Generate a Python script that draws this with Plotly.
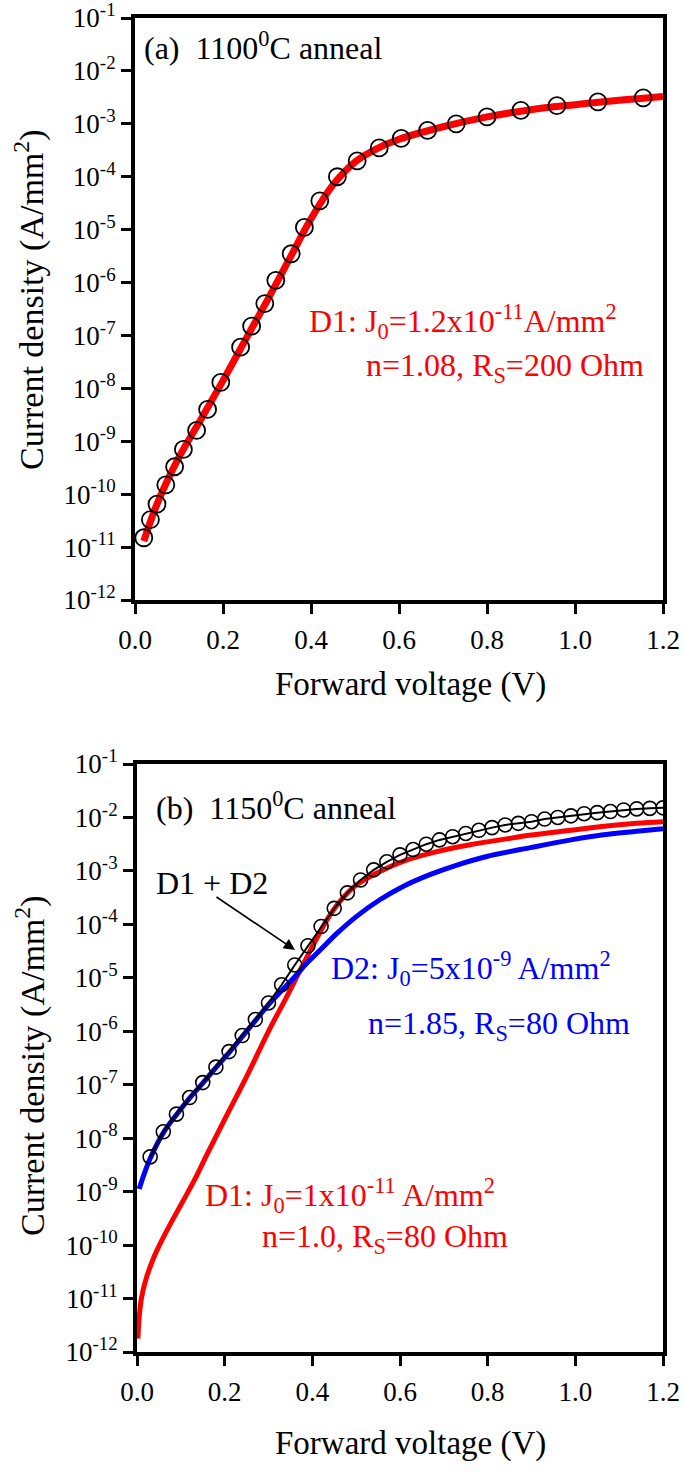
import math
import plotly.graph_objects as go

FONT = "Liberation Serif, Times New Roman, serif"
W, H = 685, 1472

# ---------------- data: panel (a) 1100 C anneal ----------------
a_v = [0.02, 0.035, 0.05, 0.07, 0.09, 0.11, 0.14, 0.165, 0.195, 0.24, 0.265, 0.295,
       0.32, 0.355, 0.385, 0.42, 0.46, 0.505, 0.555, 0.605, 0.665, 0.73, 0.8, 0.877,
       0.959, 1.052, 1.155]
a_j = [1.5e-11, 3.3e-11, 6.5e-11, 1.5e-10, 3.3e-10, 7e-10, 1.6e-9, 4e-9, 1.3e-8, 6e-8,
       1.5e-7, 4e-7, 1.1e-6, 3.5e-6, 1.1e-5, 3.5e-5, 1e-4, 2e-4, 3.5e-4, 5.3e-4, 7.5e-4,
       1e-3, 1.35e-3, 1.8e-3, 2.2e-3, 2.6e-3, 3.1e-3]
a_fit_v = [0.02, 0.05, 0.1, 0.15, 0.2, 0.25, 0.3, 0.35, 0.4, 0.45, 0.5, 0.55, 0.6, 0.7,
           0.8, 0.9, 1.0, 1.1, 1.2]
a_fit_j = [1.3e-11, 6.5e-11, 5e-10, 2.6e-9, 1.4e-8, 8e-8, 4.5e-7, 2.7e-6, 1.6e-5, 7e-5,
           1.9e-4, 3.4e-4, 5.1e-4, 8.8e-4, 1.35e-3, 1.85e-3, 2.3e-3, 2.8e-3, 3.3e-3]

# ---------------- data: panel (b) 1150 C anneal ----------------
b_v = [0.03, 0.06, 0.09, 0.12, 0.15, 0.18, 0.21, 0.24, 0.27, 0.30, 0.33, 0.36, 0.39,
       0.42, 0.45, 0.48, 0.51, 0.54, 0.57, 0.60, 0.63, 0.66, 0.69, 0.72, 0.75, 0.78,
       0.81, 0.84, 0.87, 0.90, 0.93, 0.96, 0.99, 1.02, 1.05, 1.08, 1.11, 1.14, 1.17, 1.20]
b_logj = [-8.35, -7.88, -7.55, -7.24, -6.96, -6.67, -6.38, -6.08, -5.78, -5.47, -5.13,
          -4.76, -4.40, -4.04, -3.70, -3.41, -3.17, -2.98, -2.83, -2.70, -2.60, -2.50,
          -2.42, -2.36, -2.30, -2.24, -2.19, -2.14, -2.11, -2.08, -2.03, -2.00, -1.97,
          -1.93, -1.91, -1.89, -1.86, -1.84, -1.83, -1.82]
b_d1_v = [0.002, 0.005, 0.01, 0.02, 0.04, 0.07, 0.10, 0.13, 0.16, 0.20, 0.25, 0.30, 0.34,
          0.379, 0.433, 0.463, 0.501, 0.547, 0.607, 0.684, 0.76, 0.836, 0.90, 0.99, 1.06,
          1.14, 1.20]
b_d1_logj = [-11.75, -11.35, -11.0, -10.65, -10.2, -9.7, -9.25, -8.8, -8.3, -7.65, -6.85,
             -6.0, -5.38, -4.75, -3.92, -3.57, -3.26, -3.04, -2.82, -2.64, -2.51, -2.41,
             -2.33, -2.24, -2.17, -2.11, -2.08]
b_d2_v = [0.005, 0.015, 0.03, 0.06, 0.09, 0.12, 0.15, 0.18, 0.21, 0.24, 0.27, 0.30,
          0.33, 0.36, 0.387, 0.418, 0.456, 0.501, 0.554, 0.607, 0.668, 0.73, 0.798, 0.90,
          0.99, 1.06, 1.14, 1.20]
b_d2_logj = [-8.95, -8.7, -8.38, -7.9, -7.56, -7.25, -6.97, -6.68, -6.4, -6.1, -5.8,
             -5.5, -5.24, -4.98, -4.73, -4.48, -4.17, -3.85, -3.54, -3.29, -3.07, -2.89,
             -2.73, -2.56, -2.42, -2.33, -2.26, -2.21]

b_j = [10 ** v for v in b_logj]
b_d1_j = [10 ** v for v in b_d1_logj]
b_d2_j = [10 ** v for v in b_d2_logj]

# ---------------- ticks ----------------
y_exps = list(range(-12, 0))
y_tick_vals = [10.0 ** e for e in y_exps]
y_tick_text = ["10<sup>%d</sup>" % e for e in y_exps]
x_tick_vals = [0.0, 0.2, 0.4, 0.6, 0.8, 1.0, 1.2]
x_tick_text = ["0.0", "0.2", "0.4", "0.6", "0.8", "1.0", "1.2"]


def px(x):
    return x / W


def py(y):
    return 1 - y / H


fig = go.Figure()

# panel a
fig.add_trace(go.Scatter(x=a_fit_v, y=a_fit_j, mode="lines", line=dict(color="#ff0000", width=7, shape="spline"),
                         xaxis="x", yaxis="y", showlegend=False))
fig.add_trace(go.Scatter(x=a_v, y=a_j, mode="markers",
                         marker=dict(symbol="circle-open", size=17, color="black", line=dict(width=1.8, color="black")),
                         xaxis="x", yaxis="y", showlegend=False))
# panel b
fig.add_trace(go.Scatter(x=b_d1_v, y=b_d1_j, mode="lines", line=dict(color="#ff0000", width=5, shape="spline"),
                         xaxis="x2", yaxis="y2", showlegend=False))
fig.add_trace(go.Scatter(x=b_d2_v, y=b_d2_j, mode="lines", line=dict(color="#0000ff", width=5, shape="spline"),
                         xaxis="x2", yaxis="y2", showlegend=False))
fig.add_trace(go.Scatter(x=b_v, y=b_j, mode="lines+markers", line=dict(color="black", width=2),
                         marker=dict(symbol="circle-open", size=14, color="black", line=dict(width=1.6, color="black")),
                         xaxis="x2", yaxis="y2", showlegend=False))

axis_common = dict(showline=True, linewidth=4, linecolor="black", mirror=True, ticks="outside",
                   ticklen=10, tickwidth=3, tickcolor="black", showgrid=False, zeroline=False,
                   automargin=False, ticklabeloverflow="allow",
                   tickfont=dict(family=FONT, size=27, color="black"))

fig.update_layout(
    width=W, height=H, margin=dict(l=0, r=0, t=0, b=0, autoexpand=False),
    paper_bgcolor="white", plot_bgcolor="white",
    font=dict(family=FONT, color="black"),
    xaxis=dict(domain=[px(135), px(663)], anchor="y", range=[0, 1.2], ticklabelstandoff=3,
               tickvals=x_tick_vals, ticktext=x_tick_text, **axis_common),
    yaxis=dict(domain=[py(600), py(18)], anchor="x", type="log", range=[-12, -1],
               tickvals=y_tick_vals, ticktext=y_tick_text, **axis_common),
    xaxis2=dict(domain=[px(137), px(663)], anchor="y2", range=[0, 1.2], ticklabelstandoff=3,
                tickvals=x_tick_vals, ticktext=x_tick_text, **axis_common),
    yaxis2=dict(domain=[py(1352), py(764)], anchor="x2", type="log", range=[-12, -1],
                tickvals=y_tick_vals, ticktext=y_tick_text, **axis_common),
)

anns = []


def txt(x, y, s, color="black", size=32, xanchor="left", angle=0):
    anns.append(dict(x=px(x), y=py(y), xref="paper", yref="paper", text=s, showarrow=False,
                     xanchor=xanchor, yanchor="middle", textangle=angle,
                     font=dict(family=FONT, size=size, color=color)))


# axis titles
txt(30, 300, "Current density (A/mm<sup>2</sup>)", size=34, xanchor="center", angle=-90)
txt(410, 684, "Forward voltage (V)", size=33, xanchor="center")
txt(30, 1066, "Current density (A/mm<sup>2</sup>)", size=34, xanchor="center", angle=-90)
txt(410, 1443, "Forward voltage (V)", size=33, xanchor="center")

# panel labels
txt(142, 46, "(a)  1100<sup>0</sup>C anneal")
txt(154, 806, "(b)  1150<sup>0</sup>C anneal")

# panel a fit text
txt(307, 321, "D1: J<sub>0</sub>=1.2x10<sup>-11</sup>A/mm<sup>2</sup>", color="#ff0000")
txt(364, 367, "n=1.08, R<sub>S</sub>=200 Ohm", color="#ff0000")

# panel b texts
txt(154, 883, "D1 + D2")
txt(329, 968, "D2: J<sub>0</sub>=5x10<sup>-9</sup> A/mm<sup>2</sup>", color="#0000ff")
txt(366, 1025, "n=1.85, R<sub>S</sub>=80 Ohm", color="#0000ff")
txt(203, 1195, "D1: J<sub>0</sub>=1x10<sup>-11</sup> A/mm<sup>2</sup>", color="#ff0000")
txt(260, 1238, "n=1.0, R<sub>S</sub>=80 Ohm", color="#ff0000")

# arrow D1 + D2 (tail offset in pixels relative to the tip)
anns.append(dict(x=px(295), y=py(950), xref="paper", yref="paper",
                 ax=215 - 295, ay=896 - 950, axref="pixel", ayref="pixel",
                 text="", showarrow=True, arrowhead=2,
                 arrowsize=1.4, arrowwidth=1.6, arrowcolor="black"))

fig.update_layout(annotations=anns)
# the page body gets no margin, so the figure fills the window exactly
fig.write_html("out.html", config={"displayModeBar": False},
               post_script="document.body.style.margin='0px';")
